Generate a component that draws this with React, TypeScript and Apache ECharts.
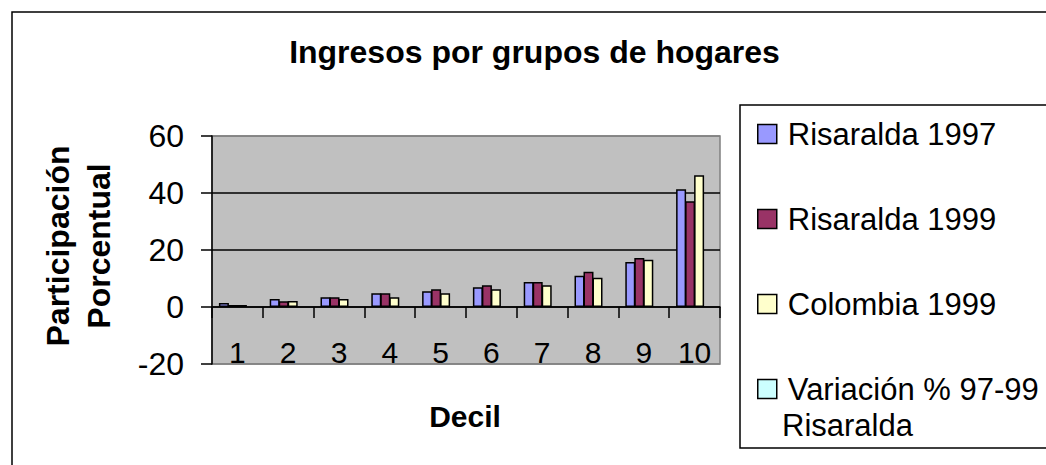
import React, { useEffect, useRef } from "react";
import * as echarts from "echarts";

const deciles = ["1", "2", "3", "4", "5", "6", "7", "8", "9", "10"];
const risaralda1997 = [1.4, 2.8, 3.4, 4.8, 5.5, 6.9, 8.8, 11.0, 15.8, 41.3];
const risaralda1999 = [0.7, 2.0, 3.4, 4.8, 6.2, 7.6, 8.8, 12.4, 17.2, 37.1];
const colombia1999 = [0.7, 2.1, 2.8, 3.4, 4.8, 6.2, 7.6, 10.3, 16.6, 46.2];
const variacion = [null, null, null, null, null, null, null, null, null, null];
const yTicks = { min: -20, max: 60, interval: 20 };

const FONT = "'Liberation Sans', Arial, Helvetica, sans-serif";
const VAR_NAME = "Variación % 97-99 Risaralda";

export default function App() {
  const ref = useRef<HTMLDivElement>(null);
  useEffect(() => {
    if (!ref.current) return;
    const chart = echarts.init(ref.current, undefined, { renderer: "svg" });
    const barBase = {
      type: "bar" as const,
      barWidth: 10,
      barGap: "-10%",
    };
    chart.setOption({
      animation: false,
      backgroundColor: "#ffffff",
      textStyle: { fontFamily: FONT },
      grid: {
        left: 212,
        top: 136,
        right: 326,
        bottom: 101,
        show: true,
        backgroundColor: "#C0C0C0",
        borderColor: "#808080",
        borderWidth: 1.5,
      },
      legend: {
        orient: "vertical",
        left: 752,
        top: 112,
        itemWidth: 19,
        itemHeight: 19,
        itemGap: 51,
        icon: "rect",
        itemStyle: { borderColor: "#000", borderWidth: 1.5 },
        textStyle: {
          fontFamily: FONT,
          fontSize: 31,
          lineHeight: 34,
          color: "#000",
          padding: [0, 0, 0, 6],
        },
        formatter: (name: string) => (name === VAR_NAME ? "Variación % 97-99" : name),
        data: ["Risaralda 1997", "Risaralda 1999", "Colombia 1999", VAR_NAME],
      },
      xAxis: {
        type: "category",
        data: deciles,
        axisLine: { show: true, onZero: true, lineStyle: { color: "#000", width: 1.5 } },
        axisTick: { show: true, length: 11, lineStyle: { color: "#000", width: 1.5 } },
        axisLabel: { fontFamily: FONT, fontSize: 30, color: "#000", margin: -27 },
        splitLine: { show: false },
      },
      yAxis: {
        type: "value",
        min: yTicks.min,
        max: yTicks.max,
        interval: yTicks.interval,
        axisLine: { show: true, lineStyle: { color: "#000", width: 1.5 } },
        axisTick: { show: true, length: 11, lineStyle: { color: "#000", width: 1.5 } },
        axisLabel: { fontFamily: FONT, fontSize: 32, color: "#000", margin: 28 },
        splitLine: {
          show: true,
          lineStyle: { color: ["#808080", "#000", "#000", "#000", "#808080"], width: 1.5 },
        },
      },
      series: [
        {
          ...barBase,
          name: "Risaralda 1997",
          data: risaralda1997,
          itemStyle: { color: "#9999FF", borderColor: "#000", borderWidth: 1.5 },
        },
        {
          ...barBase,
          name: "Risaralda 1999",
          data: risaralda1999,
          itemStyle: { color: "#993366", borderColor: "#000", borderWidth: 1.5 },
        },
        {
          ...barBase,
          name: "Colombia 1999",
          data: colombia1999,
          itemStyle: { color: "#FFFFCC", borderColor: "#000", borderWidth: 1.5 },
        },
        {
          ...barBase,
          name: VAR_NAME,
          data: variacion,
          itemStyle: { color: "#CCFFFF", borderColor: "#000", borderWidth: 1.5 },
        },
      ],
      graphic: [
        {
          type: "rect",
          z: -10,
          silent: true,
          shape: { x: 12, y: 12, width: 1200, height: 600 },
          style: { fill: "none", stroke: "#000", lineWidth: 1.5 },
        },
        {
          type: "rect",
          z: -5,
          silent: true,
          shape: { x: 740, y: 105, width: 500, height: 343 },
          style: { fill: "#fff", stroke: "#000", lineWidth: 1.5 },
        },
        {
          type: "text",
          x: 534.5,
          y: 52,
          style: {
            text: "Ingresos por grupos de hogares",
            font: `bold 32px ${FONT}`,
            fill: "#000",
            textAlign: "center",
            textVerticalAlign: "middle",
          },
        },
        {
          type: "text",
          x: 465,
          y: 416,
          style: {
            text: "Decil",
            font: `bold 30px ${FONT}`,
            fill: "#000",
            textAlign: "center",
            textVerticalAlign: "middle",
          },
        },
        {
          type: "text",
          x: 78,
          y: 246,
          rotation: Math.PI / 2,
          style: {
            text: "Participación\nPorcentual",
            font: `bold 32px ${FONT}`,
            lineHeight: 41,
            fill: "#000",
            textAlign: "center",
            textVerticalAlign: "middle",
          },
        },
        {
          type: "text",
          x: 782,
          y: 425,
          style: {
            text: "Risaralda",
            font: `31px ${FONT}`,
            fill: "#000",
            textAlign: "left",
            textVerticalAlign: "middle",
          },
        },
      ],
    });
    return () => chart.dispose();
  }, []);
  return (
    <div
      ref={ref}
      style={{ position: "fixed", left: 0, top: 0, width: 1046, height: 465 }}
    />
  );
}
